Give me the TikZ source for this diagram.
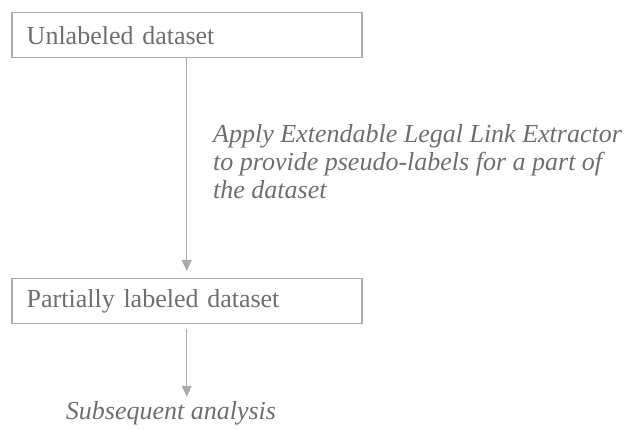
\documentclass[tikz,border=0pt]{standalone}
\usepackage{fontspec}
\setmainfont{Liberation Serif}
\usetikzlibrary{arrows.meta}

\definecolor{linegray}{HTML}{ABABAB}
\definecolor{textgray}{HTML}{6E6E6E}

\tikzset{
  stagebox/.style={draw=linegray, line width=1.5pt, rectangle, anchor=north west,
    minimum width=350pt, minimum height=45pt, inner xsep=15pt,
    text width=320pt, align=left, text=textgray},
  flowarrow/.style={draw=linegray, line width=1pt, -{Triangle[width=10pt,length=11pt]}},
  note/.style={text=textgray, font=\fontsize{26}{28}\selectfont\itshape, inner sep=0pt, align=left}
}

\begin{document}
\begin{tikzpicture}[x=1pt, y=1pt, font=\fontsize{26}{28}\selectfont]
                        \useasboundingbox (0, 0) rectangle (630, 430);
                        \node[stagebox] (unlabeled) at (11, 418){Unlabeled dataset};
                        \node[stagebox] (partial) at (11, 152){Partially labeled dataset};
                        \node[note, anchor=north west] (extractor) at (213, 306){Apply Extendable Legal Link Extractor\\to provide pseudo-labels for a part of\\the dataset};
                        \node[note, anchor=base] (analysis) at (171, 10){Subsequent analysis};
                        \draw[flowarrow, shorten >=7pt] (unlabeled.south) -- (partial.north);
                        \draw[flowarrow, shorten <=5pt, shorten >=5pt] (partial.south) -- (partial.south |- analysis.north);
                \end{tikzpicture}
\end{document}
